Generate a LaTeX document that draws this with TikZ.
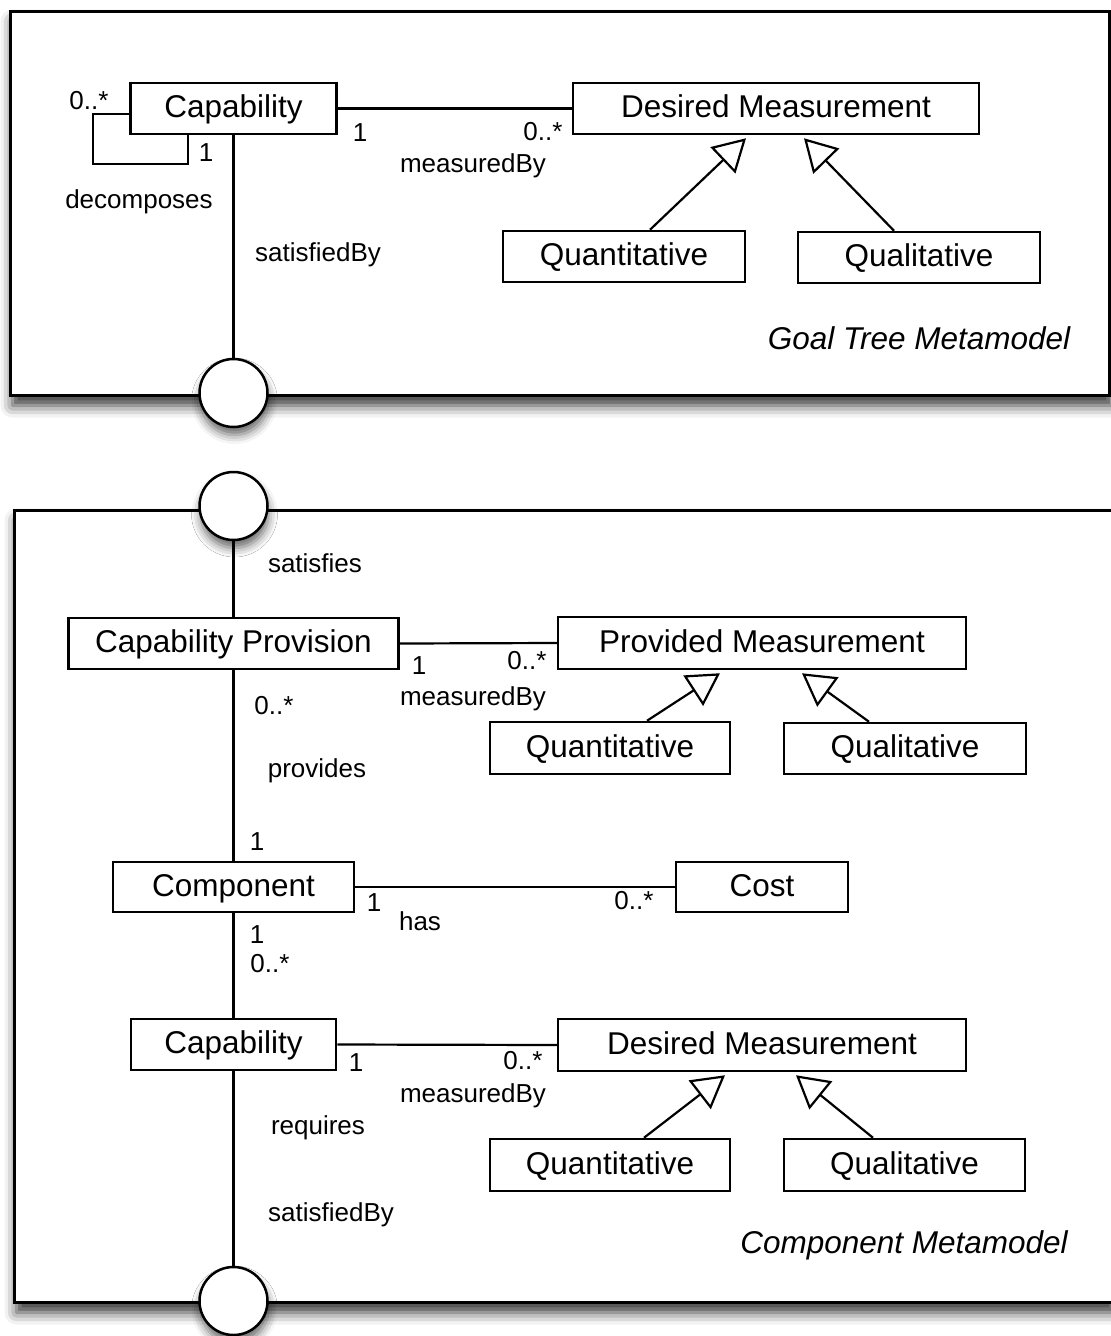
\documentclass[tikz,border=0pt]{standalone}
\usepackage{fontspec}
\setmainfont{Liberation Sans}
\usetikzlibrary{arrows.meta,shadows.blur}
\begin{document}
\begin{tikzpicture}[x=1pt,y=-1pt,
  cls/.style={draw, line width=2.5pt, fill=white, inner sep=0pt,
    font=\fontsize{31.5}{36}\selectfont, text height=24pt, text depth=6pt},
  lbl/.style={inner sep=0pt, font=\fontsize{26}{30}\selectfont, text height=18.6pt, text depth=0pt},
  ttl/.style={inner sep=0pt, font=\fontsize{31.5}{36}\selectfont\itshape, text height=22pt, text depth=0pt},
  frame/.style={draw, line width=3pt, fill=white, inner sep=0pt, anchor=north west,
    blur shadow={shadow xshift=2pt, shadow yshift=-10pt, shadow blur radius=12pt, shadow opacity=80}},
  port/.style={circle, draw, line width=2.5pt, fill=white, minimum size=68pt, inner sep=0pt,
    blur shadow={shadow xshift=1pt, shadow yshift=-8pt, shadow blur radius=9pt, shadow opacity=60}},
  assoc/.style={line width=2.2pt},
  gen/.style={line width=2.2pt, -{Triangle[open, length=32pt, width=36pt]}},
]
\useasboundingbox (0,0) rectangle (1111,1336);

% frames
\node[frame, minimum width=1099pt, minimum height=384pt] (gframe) at (9,10) {};
\node[frame, minimum width=1098pt, minimum height=792pt] (cframe) at (13,509) {};

% ports
\node[port] (c1) at (233.5,393) {};
\node[port] (c2) at (233.5,506) {};
\node[port] (c3) at (233.5,1301) {};

% ---------- Goal Tree Metamodel ----------
\node[cls, minimum width=206pt, minimum height=51pt] (cap1) at (233.5,108.5) {Capability};
\node[cls, minimum width=406pt, minimum height=51pt] (dm1) at (776,108.5) {Desired Measurement};
\node[cls, minimum width=242pt, minimum height=51pt] (qn1) at (624,256.5) {Quantitative};
\node[cls, minimum width=242pt, minimum height=51pt] (ql1) at (919,257.5) {Qualitative};

\draw[assoc] (cap1.east) -- (dm1.west);
\draw[assoc] ([yshift=-5.5pt]cap1.west) -| (93,164) -| ([xshift=-45.5pt]cap1.south);
\draw[assoc] (cap1.south) -- (c1.north);
\draw[gen] ([xshift=26pt]qn1.north) -- ([xshift=-30pt,yshift=-3pt]dm1.south);
\draw[gen] ([xshift=-25pt]ql1.north) -- ([xshift=28pt,yshift=-3pt]dm1.south);

\node[lbl] (g1) at (89,100) {0..*};
\node[lbl] (g2) at (206,152) {1};
\node[lbl] (g3) at (139,199) {decomposes};
\node[lbl] (g4) at (318,252) {satisfiedBy};
\node[lbl] (g5) at (360,132) {1};
\node[lbl] (g6) at (473,163) {measuredBy};
\node[lbl] (g7) at (543,131) {0..*};
\node[ttl] (gt) at (919,338) {Goal Tree Metamodel};

% ---------- Component Metamodel ----------
\node[cls, minimum width=330pt, minimum height=51pt] (cp) at (233.5,643.5) {Capability Provision};
\node[cls, minimum width=408pt, minimum height=52pt] (pm) at (762,643) {Provided Measurement};
\node[cls, minimum width=240pt, minimum height=52pt] (qn2) at (610,748) {Quantitative};
\node[cls, minimum width=242pt, minimum height=51pt] (ql2) at (905,748.5) {Qualitative};
\node[cls, minimum width=241pt, minimum height=50pt] (comp) at (233.5,887) {Component};
\node[cls, minimum width=172pt, minimum height=50pt] (cost) at (762,887) {Cost};
\node[cls, minimum width=205pt, minimum height=51pt] (cap2) at (233.5,1044.5) {Capability};
\node[cls, minimum width=408pt, minimum height=52pt] (dm2) at (762,1045) {Desired Measurement};
\node[cls, minimum width=240pt, minimum height=52pt] (qn3) at (610,1165) {Quantitative};
\node[cls, minimum width=241pt, minimum height=52pt] (ql3) at (904.5,1165) {Qualitative};

\draw[assoc] (c2.south) -- (cp.north);
\draw[assoc] (cp.south) -- (comp.north);
\draw[assoc] (comp.south) -- (cap2.north);
\draw[assoc] (cap2.south) -- (c3.north);
\draw[assoc] (cp.east) -- (pm.west);
\draw[assoc] (comp.east) -- (cost.west);
\draw[assoc] (cap2.east) -- (dm2.west);
\draw[gen] ([xshift=37pt]qn2.north) -- ([xshift=-42pt,yshift=-3pt]pm.south);
\draw[gen] ([xshift=-36pt]ql2.north) -- ([xshift=40pt,yshift=-3pt]pm.south);
\draw[gen] ([xshift=34pt]qn3.north) -- ([xshift=-37pt,yshift=-3pt]dm2.south);
\draw[gen] ([xshift=-31.5pt]ql3.north) -- ([xshift=34pt,yshift=-3pt]dm2.south);

\node[lbl] (b1) at (315,563) {satisfies};
\node[lbl] (b2) at (419,665) {1};
\node[lbl] (b3) at (527,660) {0..*};
\node[lbl] (b4) at (473,696) {measuredBy};
\node[lbl] (b5) at (274,705) {0..*};
\node[lbl] (b6) at (317,768) {provides};
\node[lbl] (b7) at (257,841) {1};
\node[lbl] (b8) at (374,902) {1};
\node[lbl] (b9) at (420,921) {has};
\node[lbl] (b10) at (634,900) {0..*};
\node[lbl] (b11) at (257,934) {1};
\node[lbl] (b12) at (270,963) {0..*};
\node[lbl] (b13) at (356,1062) {1};
\node[lbl] (b14) at (523,1060) {0..*};
\node[lbl] (b15) at (473,1093) {measuredBy};
\node[lbl] (b16) at (318,1125) {requires};
\node[lbl] (b17) at (331,1212) {satisfiedBy};
\node[ttl] (ct) at (904,1242) {Component Metamodel};
\end{tikzpicture}
\end{document}
